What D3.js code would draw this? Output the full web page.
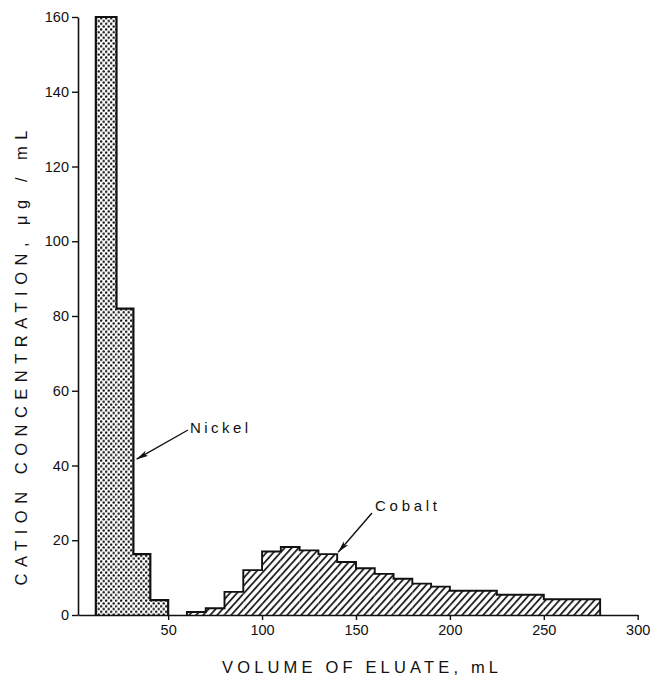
<!DOCTYPE html>
<html><head><meta charset="utf-8">
<script src="https://cdn.jsdelivr.net/npm/d3@7"></script>
<style>
html,body{margin:0;padding:0;background:#fff;}
svg{display:block;}
text{font-family:"Liberation Sans","DejaVu Sans",Arial,sans-serif;fill:#111;}
</style></head>
<body>
<svg id="chart" width="657" height="677"></svg>
<script>
// ---- data (volume bin edges in mL, concentration in µg/mL) ----
const nickelEdges  = [11.5, 22.5, 31.5, 40.5, 50];
const nickelValues = [160, 82, 16.3, 4.0];
const cobaltEdges  = [60,70,80,90,100,110,120,130,140,150,160,170,180,190,200,225,250,280];
const cobaltValues = [0.8,1.8,6.2,12.0,17.0,18.2,17.3,16.3,14.2,12.5,11.0,9.7,8.4,7.6,6.5,5.4,4.2];
const xTicks = [50,100,150,200,250,300];
const yTicks = [0,20,40,60,80,100,120,140,160];
const xTitle = "VOLUME OF ELUATE, mL";
const yTitle = "CATION CONCENTRATION, \u03BCg / mL";
const labels = [{name:"Nickel", at:[33.2,41.7]}, {name:"Cobalt", at:[140.5,16.8]}];

const svg = d3.select("#chart");
const x = d3.scaleLinear().domain([2,300]).range([78,637.7]);
const y = d3.scaleLinear().domain([0,160]).range([615,17]);

// patterns
const defs = svg.append("defs");
const dots = defs.append("pattern").attr("id","dots").attr("patternUnits","userSpaceOnUse")
  .attr("width",5).attr("height",5.6);
dots.append("rect").attr("width",5).attr("height",5.6).attr("fill","#fff");
dots.append("circle").attr("cx",1.2).attr("cy",1.4).attr("r",1.25).attr("fill","#111");
dots.append("circle").attr("cx",3.7).attr("cy",4.2).attr("r",1.25).attr("fill","#111");
const hatch = defs.append("pattern").attr("id","hatch").attr("patternUnits","userSpaceOnUse")
  .attr("width",5.2).attr("height",10).attr("patternTransform","rotate(42)");
hatch.append("rect").attr("width",5.2).attr("height",10).attr("fill","#fff");
hatch.append("line").attr("x1",1).attr("x2",1).attr("y1",0).attr("y2",10)
  .attr("stroke","#111").attr("stroke-width",1.7);

defs.append("marker").attr("id","arrow").attr("viewBox","0 0 12 6").attr("refX",12).attr("refY",3)
  .attr("markerWidth",12).attr("markerHeight",6).attr("markerUnits","userSpaceOnUse").attr("orient","auto")
  .append("path").attr("d","M0,0 L12,3 L0,6 L3,3 Z").attr("fill","#111");

function drawHist(edges, vals, fill, sw){
  const bins = vals.map((v,i)=>({x0:edges[i], x1:edges[i+1], v}));
  svg.append("g").selectAll("rect").data(bins).join("rect")
    .attr("x",d=>x(d.x0)).attr("width",d=>x(d.x1)-x(d.x0))
    .attr("y",d=>y(d.v)).attr("height",d=>y(0)-y(d.v))
    .attr("fill",fill);
  // step outline
  const pts = [[edges[0],0]];
  bins.forEach(b=>{pts.push([b.x0,b.v]); pts.push([b.x1,b.v]);});
  pts.push([edges[edges.length-1],0]);
  svg.append("path").attr("d", d3.line().x(d=>x(d[0])).y(d=>y(d[1]))(pts))
    .attr("fill","none").attr("stroke","#111").attr("stroke-width",sw).attr("stroke-linejoin","miter");
}
drawHist(nickelEdges, nickelValues, "url(#dots)", 2.2);
drawHist(cobaltEdges, cobaltValues, "url(#hatch)", 1.9);

// axes
const gx = svg.append("g").attr("transform",`translate(0,${y(0)})`)
  .call(d3.axisBottom(x).tickValues(xTicks).tickSize(5).tickSizeOuter(0).tickPadding(5));
const gy = svg.append("g").attr("transform",`translate(${x(2)},0)`)
  .call(d3.axisLeft(y).tickValues(yTicks).tickSize(6).tickSizeOuter(0).tickPadding(3));
[gx,gy].forEach(g=>{
  g.select(".domain").attr("stroke","#111").attr("stroke-width",1.6);
  g.selectAll(".tick line").attr("stroke","#111").attr("stroke-width",1.4);
  g.selectAll(".tick text").attr("font-size",14.5).attr("font-family","Liberation Sans, Arial, sans-serif").attr("fill","#111");
});

// titles
svg.append("text").attr("x",360).attr("y",673).attr("text-anchor","middle")
  .attr("font-size",16.5).attr("textLength",276).attr("lengthAdjust","spacing").text(xTitle);
svg.append("text").attr("transform","translate(27,358) rotate(-90)").attr("text-anchor","middle")
  .attr("font-size",16.5).attr("textLength",455).attr("lengthAdjust","spacing").text(yTitle);

// annotations
svg.append("text").attr("x",190).attr("y",433).attr("font-size",15).attr("textLength",58)
  .attr("lengthAdjust","spacing").text("Nickel");
svg.append("line").attr("x1",188).attr("y1",430).attr("x2",x(labels[0].at[0])).attr("y2",y(labels[0].at[1]))
  .attr("stroke","#111").attr("stroke-width",1.4).attr("marker-end","url(#arrow)");
svg.append("text").attr("x",375).attr("y",511).attr("font-size",15).attr("textLength",62)
  .attr("lengthAdjust","spacing").text("Cobalt");
svg.append("line").attr("x1",372).attr("y1",513).attr("x2",x(labels[1].at[0])).attr("y2",y(labels[1].at[1]))
  .attr("stroke","#111").attr("stroke-width",1.4).attr("marker-end","url(#arrow)");
</script>
</body></html>
